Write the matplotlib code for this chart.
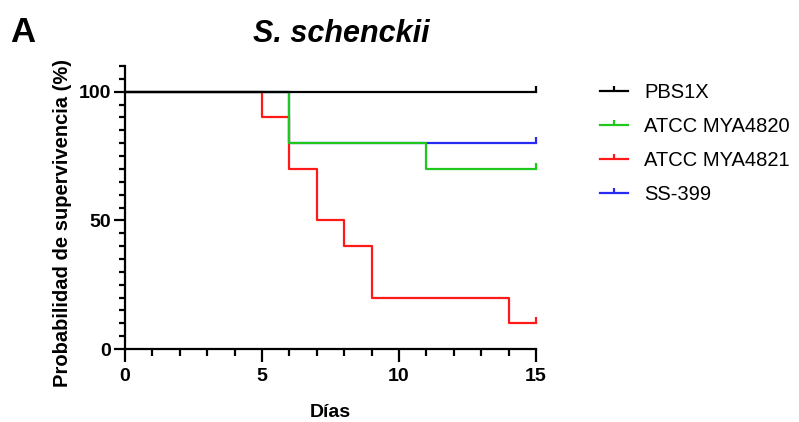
import matplotlib
matplotlib.use("Agg")
import matplotlib.pyplot as plt
from matplotlib.ticker import MultipleLocator
from matplotlib.lines import Line2D

# survival curves (step changes), days vs % survival
pbs_days = [0, 15]
pbs_surv = [100, 100]

mya4820_days = [0, 6, 11, 15]
mya4820_surv = [100, 80, 70, 70]

mya4821_days = [0, 5, 6, 7, 8, 9, 14, 15]
mya4821_surv = [100, 90, 70, 50, 40, 20, 10, 10]

ss399_days = [0, 6, 15]
ss399_surv = [100, 80, 80]

labels = ["PBS1X", "ATCC MYA4820", "ATCC MYA4821", "SS-399"]
colors = ["#000000", "#1fc71f", "#ff1a1a", "#2a2af5"]

plt.rcParams['font.family'] = ['Liberation Sans', 'DejaVu Sans']

fig = plt.figure(figsize=(7.99, 4.22), dpi=100)
ax = fig.add_axes([125 / 799, 1 - 349 / 422, (536 - 125) / 799, (349 - 66) / 422])

# censor tick pointing up
censor = [(0, 0), (0, 1)]

series = [
    (pbs_days, pbs_surv, colors[0], 4),
    (mya4820_days, mya4820_surv, colors[1], 3),
    (mya4821_days, mya4821_surv, colors[2], 2),
    (ss399_days, ss399_surv, colors[3], 1),
]
for d, s, c, z in series:
    ax.step(d, s, where='post', color=c, lw=1.6, zorder=z, clip_on=False)
    ax.plot([d[-1]], [s[-1]], marker=censor, ms=9, mew=1.6, mfc='none',
            color=c, zorder=z, clip_on=False)

ax.set_xlim(0, 15)
ax.set_ylim(0, 110)
ax.xaxis.set_major_locator(MultipleLocator(5))
ax.xaxis.set_minor_locator(MultipleLocator(1))
ax.set_yticks([0, 50, 100])
ax.yaxis.set_minor_locator(MultipleLocator(5))

for sp in ['top', 'right']:
    ax.spines[sp].set_visible(False)
for sp in ['left', 'bottom']:
    ax.spines[sp].set_linewidth(1.6)

ax.tick_params(axis='x', which='major', length=9, width=1.6, labelsize=14, pad=5)
ax.tick_params(axis='x', which='minor', length=5, width=1.6)
ax.tick_params(axis='y', which='major', length=8, width=1.6, labelsize=14, pad=2)
ax.tick_params(axis='y', which='minor', length=4, width=1.6)
for t in ax.get_xticklabels() + ax.get_yticklabels():
    t.set_fontweight('bold')

fig.text(330 / 799, 1 - 417 / 422, "Días", fontsize=14, fontweight='bold',
         ha='center', va='baseline')
ax.set_ylabel("Probabilidad de supervivencia (%)", fontsize=14.5, fontweight='bold')
ax.yaxis.set_label_coords(-0.129, 0.445)

fig.text(341 / 799, 1 - 34 / 422, "S. schenckii", fontsize=22, fontweight='bold',
         fontstyle='italic', ha='center', va='center')
fig.text(10 / 799, 1 - 33 / 422, "A", fontsize=25, fontweight='bold',
         ha='left', va='center')

# line with tick in middle for legend
leg_handles = []
for c in colors:
    leg_handles.append(Line2D([0, 0.5, 1], [0, 0, 0], color=c, lw=1.6))
leg = fig.legend(leg_handles, labels, loc='upper left',
                 bbox_to_anchor=(600 / 799, 1 - 83 / 422), frameon=False,
                 fontsize=14.5, borderpad=0, borderaxespad=0,
                 handlelength=1.4, handletextpad=0.8, labelspacing=0.75)
for lh in leg.legend_handles:
    lh.set_marker(censor)
    lh.set_markersize(7)
    lh.set_markeredgewidth(1.6)
    lh.set_markerfacecolor('none')
    lh.set_markevery([1])

fig.savefig("out.png", dpi=100)
